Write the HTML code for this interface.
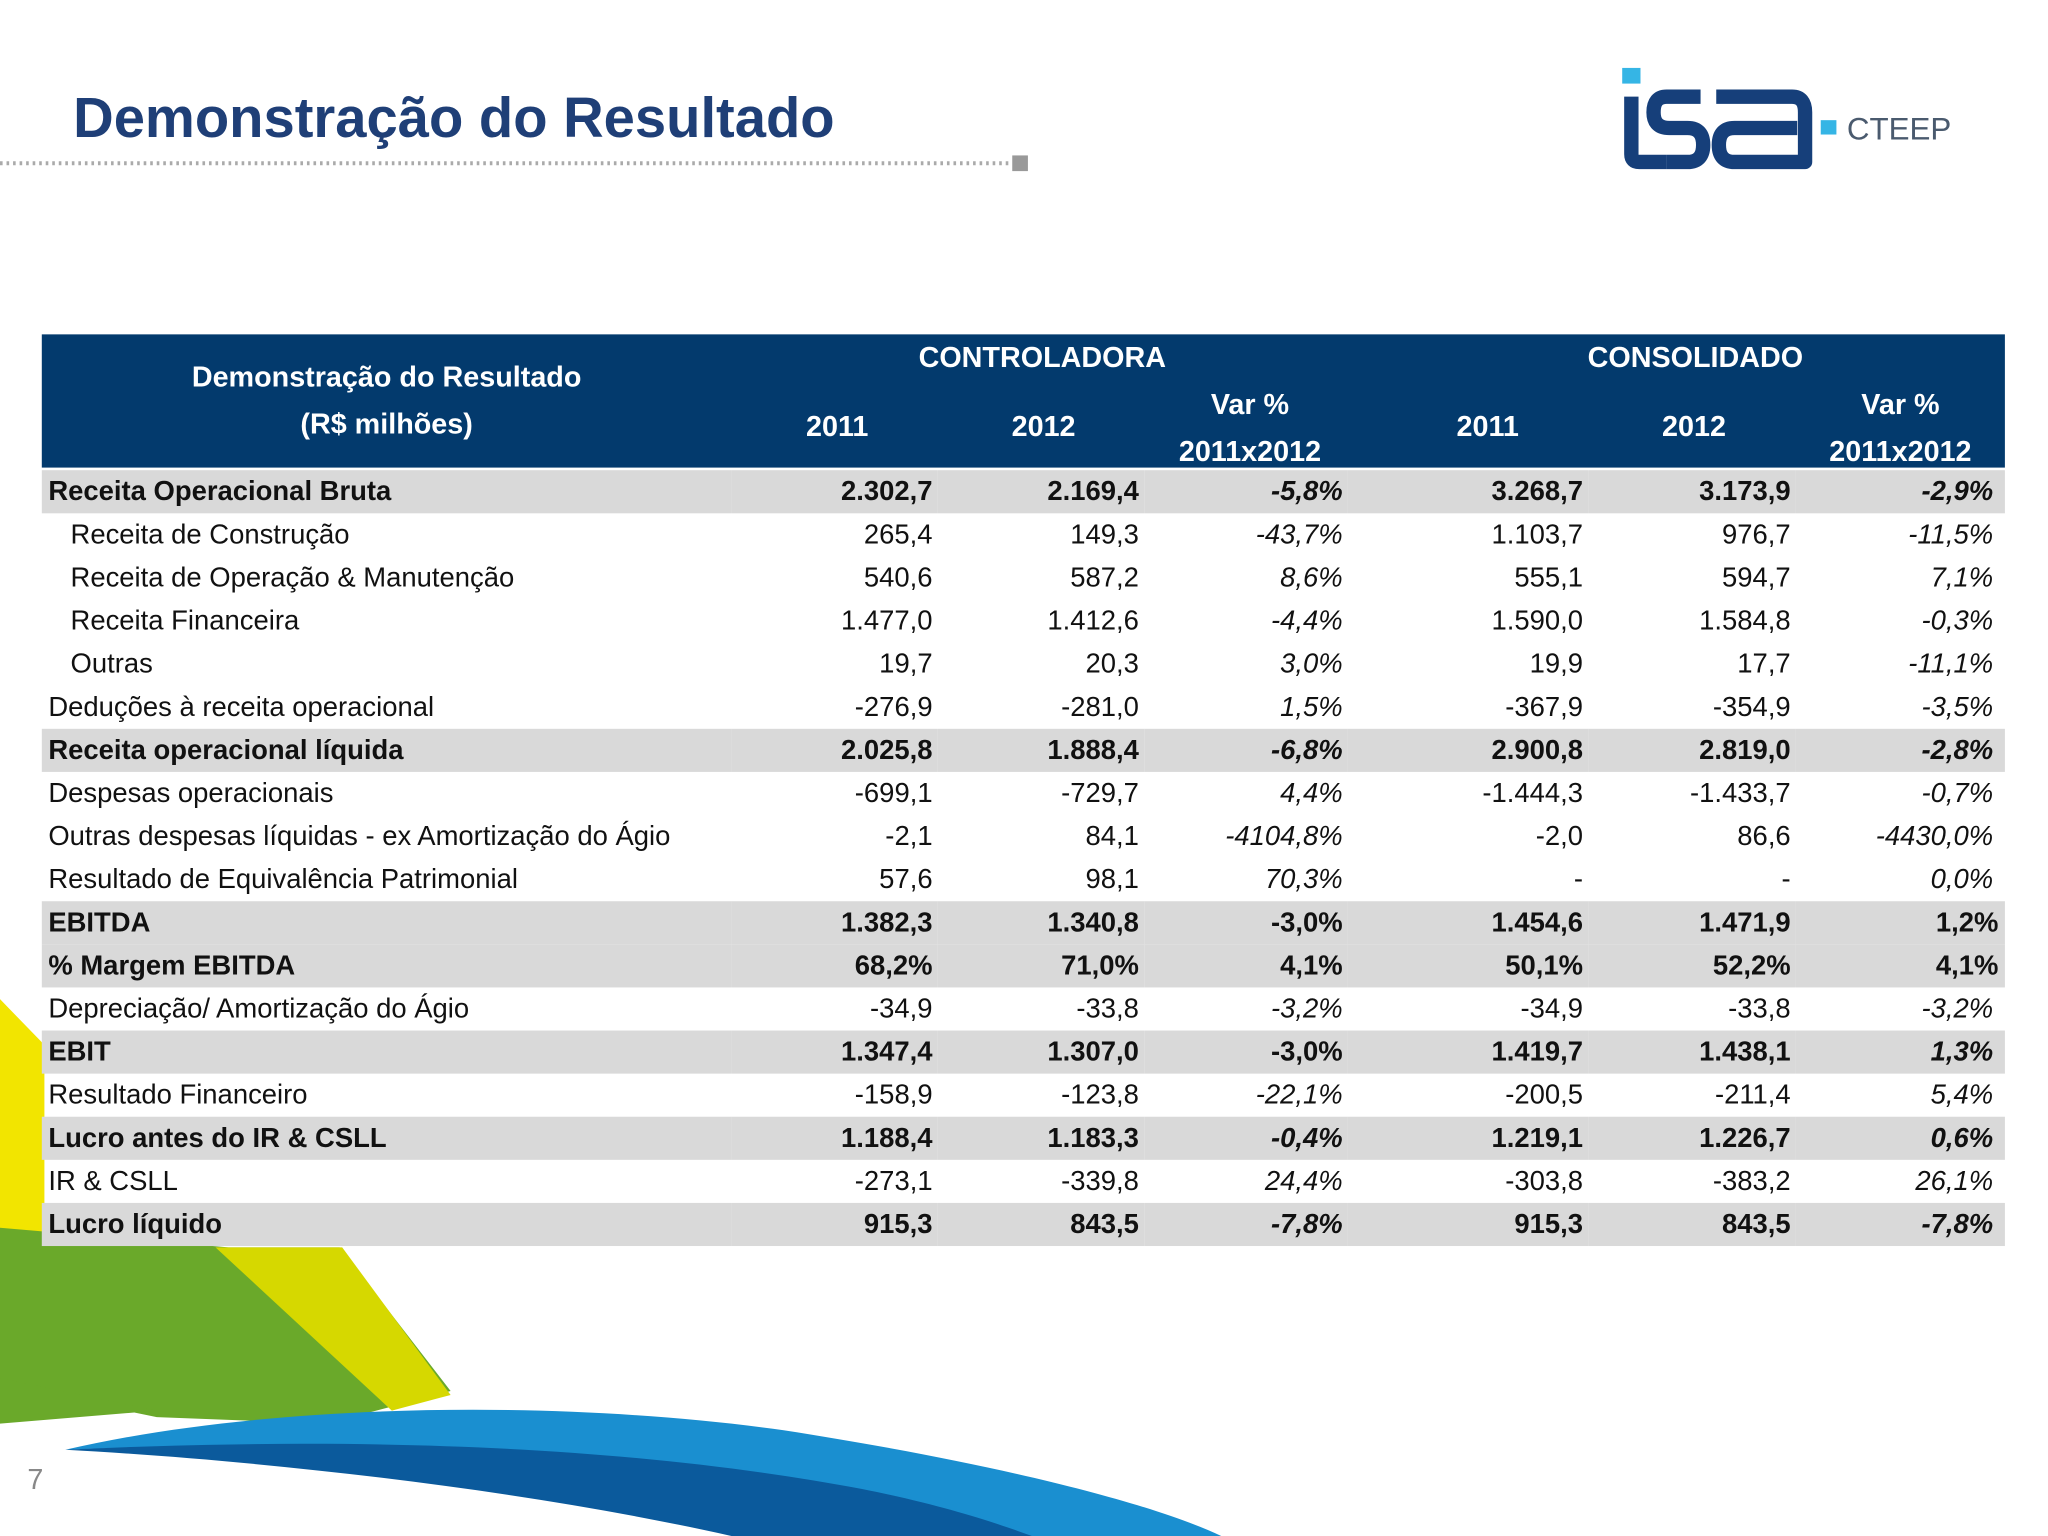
<!DOCTYPE html>
<html><head><meta charset="utf-8">
<style>
html,body{margin:0;padding:0;background:#fff;}
body{width:2048px;height:1536px;overflow:hidden;position:relative;}
#s{position:absolute;left:0;top:0;width:1568px;height:1176px;transform:scale(1.306122);transform-origin:0 0;font-family:"Liberation Sans",sans-serif;}
.abs{position:absolute;}
h1{position:absolute;left:56px;top:67px;margin:0;font-size:43px;font-weight:bold;color:#1f3f77;}
.hd{position:absolute;color:#fff;font-size:22px;font-weight:bold;text-align:center;}
table{position:absolute;left:32px;top:360px;border-collapse:collapse;table-layout:fixed;width:1503px;font-size:21px;color:#111;}
td{height:33px;padding:0;white-space:nowrap;overflow:visible;}
td.l{padding-left:5px;}
td.i{padding-left:22px;}
td.n{text-align:right;padding-right:4px;}
td.v{text-align:right;padding-right:4px;font-style:italic;}
td.v2{text-align:right;padding-right:9px;font-style:italic;}
tr.g td{background:#d9d9d9;font-weight:bold;}
</style></head>
<body>
<div id="s">
<svg class="abs" style="left:0;top:0" width="1568" height="1176">
 <polygon points="0,765 34,800 34,955 0,955" fill="#f2e500"/>
 <polygon points="0,940 175,955 260,955 345,1065 250,1090 120,1085 0,1060" fill="#6aa92a"/>
 <polygon points="165,955 262,955 345,1068 300,1080" fill="#d6d800"/>
 <polygon points="0,1055 120,1080 0,1090" fill="#6aa92a"/>
 <path d="M50,1110 C200,1075 420,1070 600,1095 C760,1120 880,1150 935,1176 L780,1176 C650,1140 420,1095 50,1110 Z" fill="#1a8fd0"/>
 <path d="M50,1110 C300,1098 500,1110 660,1140 C720,1152 760,1165 790,1176 L560,1176 C400,1140 200,1118 50,1110 Z" fill="#0b5a9c"/>
 <line x1="0" y1="125" x2="772" y2="125" stroke="#aaa" stroke-width="3" stroke-dasharray="2,3"/>
 <rect x="775" y="119" width="12" height="12" fill="#999"/>
</svg>
<h1>Demonstração do Resultado</h1>
<svg class="abs" style="left:1236px;top:48px" width="270" height="90">
 <rect x="6" y="4" width="14" height="12" fill="#35b5e5"/>
 <g fill="none" stroke="#163f7a" stroke-width="11" stroke-linejoin="round">
  <path d="M13,26 L13,70 Q13,76 19,76 L40,76"/>
  <path d="M66,26 L40,26 Q30,26 30,38 Q30,50 42,50 L56,50 Q68,50 68,63 Q68,76 56,76 L40,76"/>
  <path d="M78,26 L136,26 Q146,26 146,38 L146,76 L92,76 Q80,76 80,63 Q80,50 92,50 L140,50"/>
 </g>
 <rect x="158" y="44" width="12" height="11" fill="#35b5e5"/>
 <text x="178" y="59" font-family="Liberation Sans,sans-serif" font-size="24" fill="#4a5a6e">CTEEP</text>
</svg>
<div class="abs" style="left:32px;top:256px;width:1503px;height:102px;background:#033a6d"></div>
<div class="hd" style="left:32px;top:276px;width:528px">Demonstração do Resultado</div>
<div class="hd" style="left:32px;top:312px;width:528px">(R$ milhões)</div>
<div class="hd" style="left:560px;top:261px;width:476px">CONTROLADORA</div>
<div class="hd" style="left:1060px;top:261px;width:476px">CONSOLIDADO</div>
<div class="hd" style="left:581px;top:314px;width:120px">2011</div>
<div class="hd" style="left:739px;top:314px;width:120px">2012</div>
<div class="hd" style="left:887px;top:297px;width:140px">Var %</div>
<div class="hd" style="left:887px;top:333px;width:140px">2011x2012</div>
<div class="hd" style="left:1079px;top:314px;width:120px">2011</div>
<div class="hd" style="left:1237px;top:314px;width:120px">2012</div>
<div class="hd" style="left:1385px;top:297px;width:140px">Var %</div>
<div class="hd" style="left:1385px;top:333px;width:140px">2011x2012</div>
<table>
<colgroup><col style="width:528px"><col style="width:158px"><col style="width:158px"><col style="width:156px"><col style="width:184px"><col style="width:159px"><col style="width:160px"></colgroup>
<tr class="g"><td class="l">Receita Operacional Bruta</td><td class="n">2.302,7</td><td class="n">2.169,4</td><td class="v">-5,8%</td><td class="n">3.268,7</td><td class="n">3.173,9</td><td class="v2">-2,9%</td></tr>
<tr><td class="i">Receita de Construção</td><td class="n">265,4</td><td class="n">149,3</td><td class="v">-43,7%</td><td class="n">1.103,7</td><td class="n">976,7</td><td class="v2">-11,5%</td></tr>
<tr><td class="i">Receita de Operação &amp; Manutenção</td><td class="n">540,6</td><td class="n">587,2</td><td class="v">8,6%</td><td class="n">555,1</td><td class="n">594,7</td><td class="v2">7,1%</td></tr>
<tr><td class="i">Receita Financeira</td><td class="n">1.477,0</td><td class="n">1.412,6</td><td class="v">-4,4%</td><td class="n">1.590,0</td><td class="n">1.584,8</td><td class="v2">-0,3%</td></tr>
<tr><td class="i">Outras</td><td class="n">19,7</td><td class="n">20,3</td><td class="v">3,0%</td><td class="n">19,9</td><td class="n">17,7</td><td class="v2">-11,1%</td></tr>
<tr><td class="l">Deduções à receita operacional</td><td class="n">-276,9</td><td class="n">-281,0</td><td class="v">1,5%</td><td class="n">-367,9</td><td class="n">-354,9</td><td class="v2">-3,5%</td></tr>
<tr class="g"><td class="l">Receita operacional líquida</td><td class="n">2.025,8</td><td class="n">1.888,4</td><td class="v">-6,8%</td><td class="n">2.900,8</td><td class="n">2.819,0</td><td class="v2">-2,8%</td></tr>
<tr><td class="l">Despesas operacionais</td><td class="n">-699,1</td><td class="n">-729,7</td><td class="v">4,4%</td><td class="n">-1.444,3</td><td class="n">-1.433,7</td><td class="v2">-0,7%</td></tr>
<tr><td class="l">Outras despesas líquidas - ex Amortização do Ágio</td><td class="n">-2,1</td><td class="n">84,1</td><td class="v">-4104,8%</td><td class="n">-2,0</td><td class="n">86,6</td><td class="v2">-4430,0%</td></tr>
<tr><td class="l">Resultado de Equivalência Patrimonial</td><td class="n">57,6</td><td class="n">98,1</td><td class="v">70,3%</td><td class="n">-</td><td class="n">-</td><td class="v2">0,0%</td></tr>
<tr class="g"><td class="l">EBITDA</td><td class="n">1.382,3</td><td class="n">1.340,8</td><td class="n">-3,0%</td><td class="n">1.454,6</td><td class="n">1.471,9</td><td class="n" style="padding-right:5px">1,2%</td></tr>
<tr class="g"><td class="l">% Margem EBITDA</td><td class="n">68,2%</td><td class="n">71,0%</td><td class="n">4,1%</td><td class="n">50,1%</td><td class="n">52,2%</td><td class="n" style="padding-right:5px">4,1%</td></tr>
<tr><td class="l">Depreciação/ Amortização do Ágio</td><td class="n">-34,9</td><td class="n">-33,8</td><td class="v">-3,2%</td><td class="n">-34,9</td><td class="n">-33,8</td><td class="v2">-3,2%</td></tr>
<tr class="g"><td class="l">EBIT</td><td class="n">1.347,4</td><td class="n">1.307,0</td><td class="n">-3,0%</td><td class="n">1.419,7</td><td class="n">1.438,1</td><td class="v2">1,3%</td></tr>
<tr><td class="l">Resultado Financeiro</td><td class="n">-158,9</td><td class="n">-123,8</td><td class="v">-22,1%</td><td class="n">-200,5</td><td class="n">-211,4</td><td class="v2">5,4%</td></tr>
<tr class="g"><td class="l">Lucro antes do IR &amp; CSLL</td><td class="n">1.188,4</td><td class="n">1.183,3</td><td class="v">-0,4%</td><td class="n">1.219,1</td><td class="n">1.226,7</td><td class="v2">0,6%</td></tr>
<tr><td class="l">IR &amp; CSLL</td><td class="n">-273,1</td><td class="n">-339,8</td><td class="v">24,4%</td><td class="n">-303,8</td><td class="n">-383,2</td><td class="v2">26,1%</td></tr>
<tr class="g"><td class="l">Lucro líquido</td><td class="n">915,3</td><td class="n">843,5</td><td class="v">-7,8%</td><td class="n">915,3</td><td class="n">843,5</td><td class="v2">-7,8%</td></tr>
</table>
<div class="abs" style="left:21px;top:1120px;font-size:22px;color:#888">7</div>
</div>
</body></html>
